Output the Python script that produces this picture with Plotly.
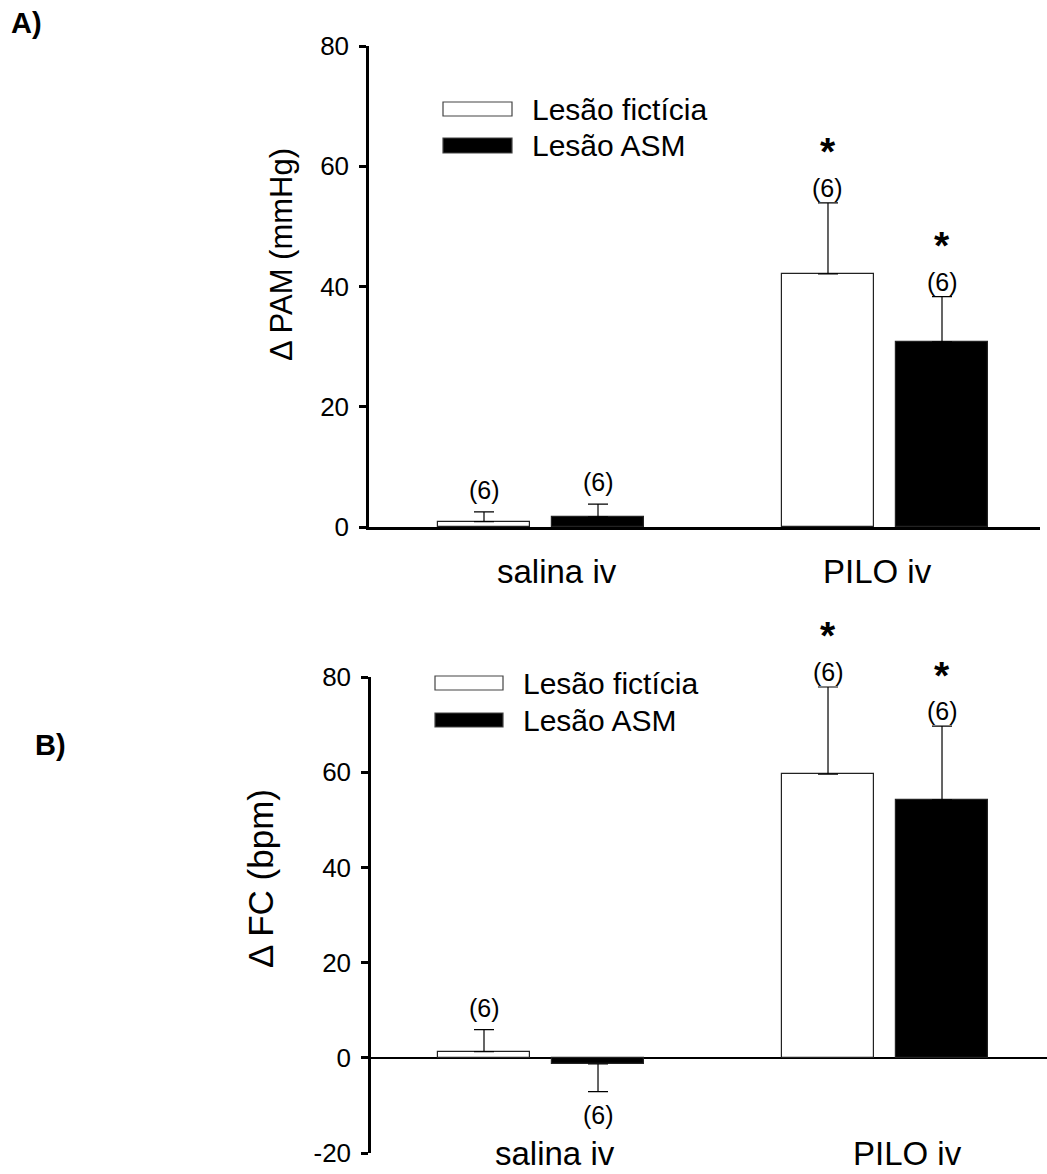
import plotly.graph_objects as go

W, H = 1047, 1174

# ---------------- data ----------------
categories = ["salina iv", "PILO iv"]
series_names = ["Lesão fictícia", "Lesão ASM"]

pam_ficticia = [0.9, 42.1]
pam_ficticia_err = [1.6, 11.8]
pam_asm = [1.7, 30.8]
pam_asm_err = [2.1, 7.5]

fc_ficticia = [1.3, 59.6]
fc_ficticia_err = [4.6, 18.3]
fc_asm = [-1.3, 54.2]
fc_asm_err = [5.8, 15.5]

n_labels = ["(6)", "(6)"]
signif = [False, True]  # asterisk per category

yticks_a = [0, 20, 40, 60, 80]
yticks_b = [-20, 0, 20, 40, 60, 80]
yticktext_b = ["-20", "0", "20", "40", "60", "80"]

# ---------------- style ----------------
FONT = "Arial, Liberation Sans, sans-serif"
BAR_W = 0.2674
CENTER_OFF = 0.1657
colors = ["white", "black"]

def px(v):  # vertical pixel -> paper
    return 1 - v / H

def pxx(v):
    return v / W

fig = go.Figure()

panels = [
    dict(xa="x", ya="y", vals=[pam_ficticia, pam_asm], errs=[pam_ficticia_err, pam_asm_err]),
    dict(xa="x2", ya="y2", vals=[fc_ficticia, fc_asm], errs=[fc_ficticia_err, fc_asm_err]),
]

annotations = []
xs = list(range(len(categories)))

for p in panels:
    for s in range(2):
        vals = p["vals"][s]
        errs = p["errs"][s]
        plus = [e if v >= 0 else 0 for v, e in zip(vals, errs)]
        minus = [e if v < 0 else 0 for v, e in zip(vals, errs)]
        off = (-CENTER_OFF if s == 0 else CENTER_OFF) - BAR_W / 2
        fig.add_trace(go.Bar(
            x=xs, y=vals, width=BAR_W, offset=off,
            marker=dict(color=colors[s], line=dict(color="#222", width=1.2)),
            error_y=dict(type="data", symmetric=False, array=plus, arrayminus=minus,
                         color="black", thickness=1.2, width=10),
            xaxis=p["xa"], yaxis=p["ya"], showlegend=False, name=series_names[s],
        ))
        for i, (v, e) in enumerate(zip(vals, errs)):
            cx = i + off + BAR_W / 2
            if v >= 0:
                top = v + e
                shift = 22 if not signif[i] else 15
                annotations.append(dict(x=cx, y=top, xref=p["xa"], yref=p["ya"], text=n_labels[i],
                                        showarrow=False, xanchor="center", yanchor="middle", yshift=shift,
                                        font=dict(family=FONT, size=25, color="black")))
                if signif[i]:
                    annotations.append(dict(x=cx, y=top, xref=p["xa"], yref=p["ya"], text="<b>*</b>",
                                            showarrow=False, xanchor="center", yanchor="middle", yshift=shift + 36,
                                            font=dict(family=FONT, size=39, color="black")))
            else:
                bot = v - e
                annotations.append(dict(x=cx, y=bot, xref=p["xa"], yref=p["ya"], text=n_labels[i],
                                        showarrow=False, xanchor="center", yanchor="middle", yshift=-23,
                                        font=dict(family=FONT, size=25, color="black")))

# category labels
cat_pos = [
    dict(xref="x", y=px(571), shifts=[16, -8]),
    dict(xref="x2", y=px(1153), shifts=[14, 22]),
]
for cp in cat_pos:
    for i, c in enumerate(categories):
        annotations.append(dict(x=i, y=cp["y"], xref=cp["xref"], yref="paper", text=c,
                                showarrow=False, xanchor="center", yanchor="middle", xshift=cp["shifts"][i],
                                font=dict(family=FONT, size=33, color="black")))

# axis titles
annotations.append(dict(x=pxx(281), y=px(255), xref="paper", yref="paper", text="Δ PAM (mmHg)",
                        textangle=-90, showarrow=False, xanchor="center", yanchor="middle",
                        font=dict(family=FONT, size=31, color="black")))
annotations.append(dict(x=pxx(260), y=px(879), xref="paper", yref="paper", text="Δ FC (bpm)",
                        textangle=-90, showarrow=False, xanchor="center", yanchor="middle",
                        font=dict(family=FONT, size=35, color="black")))

# panel labels
annotations.append(dict(x=pxx(26), y=px(23), xref="paper", yref="paper", text="<b>A)</b>",
                        showarrow=False, xanchor="center", yanchor="middle",
                        font=dict(family=FONT, size=29, color="black")))
annotations.append(dict(x=pxx(50), y=px(745), xref="paper", yref="paper", text="<b>B)</b>",
                        showarrow=False, xanchor="center", yanchor="middle",
                        font=dict(family=FONT, size=29, color="black")))

# legends (custom swatches)
shapes = []
legends = [
    dict(x0=443, x1=512, rows=[(102, 116), (138, 153)], tx=530),
    dict(x0=435, x1=503, rows=[(676, 690), (713, 727)], tx=521),
]
for lg in legends:
    for s, (y0, y1) in enumerate(lg["rows"]):
        shapes.append(dict(type="rect", xref="paper", yref="paper",
                           x0=pxx(lg["x0"]), x1=pxx(lg["x1"]), y0=px(y1), y1=px(y0),
                           fillcolor=colors[s], line=dict(color="#444", width=1.2)))
        annotations.append(dict(x=pxx(lg["tx"]), y=px((y0 + y1) / 2), xref="paper", yref="paper",
                                text=series_names[s], showarrow=False, xanchor="left", yanchor="middle",
                                font=dict(family=FONT, size=30, color="black")))

tickfont = dict(family=FONT, size=26, color="black")

fig.update_layout(
    width=W, height=H, margin=dict(l=0, r=0, t=0, b=0, pad=0, autoexpand=False),
    paper_bgcolor="white", plot_bgcolor="white",
    barmode="overlay", bargap=0,
    annotations=annotations, shapes=shapes,
    xaxis=dict(domain=[pxx(369), pxx(1040)], range=[-0.5, 1.4506], showline=True, linewidth=2.5,
               linecolor="black", ticks="", showticklabels=False, showgrid=False, zeroline=False,
               anchor="y", automargin=False),
    yaxis=dict(domain=[px(527), px(46)], range=[0, 80], tickvals=yticks_a, ticks="outside", ticklen=7,
               tickwidth=2.5, tickcolor="black", showline=True, linewidth=2.5, linecolor="black",
               showgrid=False, zeroline=False, tickfont=tickfont, anchor="x", ticklabelstandoff=5,
               automargin=False),
    xaxis2=dict(domain=[pxx(371), 1.0], range=[-0.4942, 1.4709], showline=False, ticks="",
                showticklabels=False, showgrid=False, zeroline=False, anchor="y2", automargin=False),
    yaxis2=dict(domain=[px(1153), px(677)], range=[-20, 80], tickvals=yticks_b, ticktext=yticktext_b,
                ticks="outside", ticklen=7,
                tickwidth=2.5, tickcolor="black", showline=True, linewidth=2.5, linecolor="black",
                showgrid=False, zeroline=True, zerolinecolor="black", zerolinewidth=1.5,
                tickfont=tickfont, anchor="x2", ticklabelstandoff=5, automargin=False),
)

fig.write_html("out.html")
